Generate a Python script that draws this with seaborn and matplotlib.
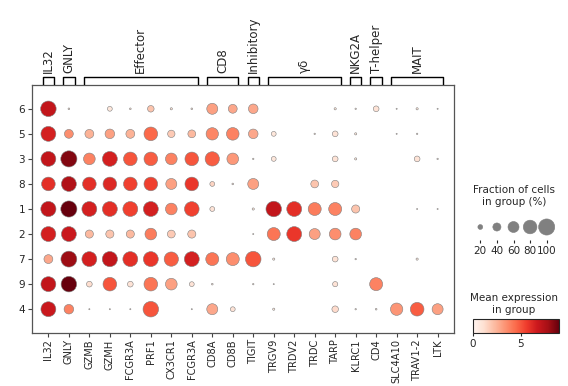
import numpy as np
import pandas as pd
import seaborn as sns
import matplotlib as mpl
import matplotlib.pyplot as plt

# groups (rows) top to bottom and genes (columns)
rows = ["6", "5", "3", "8", "1", "2", "7", "9", "4"]
genes = ["IL32", "GNLY", "GZMB", "GZMH", "FCGR3A", "PRF1", "CX3CR1", "FCGR3A",
         "CD8A", "CD8B", "TIGIT", "TRGV9", "TRDV2", "TRDC", "TARP", "KLRC1",
         "CD4", "SLC4A10", "TRAV1-2", "LTK"]

group_names = ["IL32", "GNLY", "Effector", "CD8", "Inhibitory", "γδ", "NKG2A", "T-helper", "MAIT"]
group_start = [0, 1, 2, 8, 10, 11, 15, 16, 17]
group_end = [0, 1, 7, 9, 10, 14, 15, 16, 19]

# fraction of cells expressing (0-1)
frac = [
    [0.95, 0.05, 0.00, 0.20, 0.05, 0.30, 0.07, 0.05, 0.60, 0.45, 0.50, 0.00, 0.00, 0.00, 0.07, 0.04, 0.25, 0.03, 0.07, 0.03],
    [0.90, 0.45, 0.45, 0.50, 0.45, 0.80, 0.35, 0.38, 0.70, 0.72, 0.50, 0.20, 0.00, 0.04, 0.25, 0.07, 0.00, 0.03, 0.04, 0.00],
    [0.90, 1.00, 0.65, 0.90, 0.80, 0.80, 0.65, 0.80, 0.85, 0.65, 0.04, 0.20, 0.00, 0.00, 0.25, 0.07, 0.00, 0.00, 0.25, 0.04],
    [0.80, 0.90, 0.80, 0.80, 0.80, 0.80, 0.60, 0.80, 0.20, 0.05, 0.60, 0.00, 0.00, 0.38, 0.35, 0.00, 0.00, 0.00, 0.00, 0.00],
    [0.92, 1.00, 0.90, 0.90, 0.90, 0.90, 0.65, 0.88, 0.20, 0.00, 0.07, 0.95, 0.90, 0.75, 0.75, 0.40, 0.00, 0.00, 0.03, 0.03],
    [0.90, 0.90, 0.40, 0.40, 0.40, 0.65, 0.38, 0.40, 0.00, 0.00, 0.03, 0.75, 0.90, 0.60, 0.65, 0.65, 0.00, 0.00, 0.00, 0.00],
    [0.45, 0.98, 0.90, 0.92, 0.90, 0.90, 0.85, 0.90, 0.75, 0.75, 0.95, 0.07, 0.00, 0.00, 0.25, 0.04, 0.00, 0.00, 0.07, 0.00],
    [0.90, 0.95, 0.25, 0.80, 0.25, 0.80, 0.65, 0.20, 0.05, 0.00, 0.04, 0.03, 0.00, 0.00, 0.22, 0.00, 0.75, 0.00, 0.00, 0.00],
    [0.90, 0.50, 0.03, 0.03, 0.03, 0.95, 0.00, 0.03, 0.60, 0.20, 0.00, 0.07, 0.00, 0.00, 0.30, 0.04, 0.05, 0.70, 0.80, 0.60],
]

# mean expression in group
expr = [
    [7.0, 1.0, 0.0, 0.8, 1.0, 2.0, 1.0, 1.0, 3.0, 2.8, 2.8, 0.0, 0.0, 0.0, 0.8, 0.8, 1.0, 0.8, 0.8, 0.8],
    [6.5, 3.5, 2.5, 3.0, 2.5, 4.5, 1.8, 2.3, 3.7, 3.8, 2.8, 0.8, 0.0, 0.8, 1.0, 0.8, 0.0, 0.8, 0.8, 0.0],
    [7.0, 8.5, 3.8, 6.5, 5.0, 4.8, 3.8, 5.0, 4.8, 3.2, 0.8, 0.8, 0.0, 0.0, 1.0, 0.8, 0.0, 0.0, 1.0, 0.8],
    [6.0, 7.5, 6.0, 6.2, 5.5, 5.5, 3.0, 5.8, 1.5, 1.0, 3.0, 0.0, 0.0, 2.0, 1.8, 0.0, 0.0, 0.0, 0.0, 0.0],
    [7.0, 9.0, 6.5, 6.0, 5.5, 6.5, 3.8, 5.5, 1.0, 0.0, 0.8, 7.0, 6.0, 4.0, 3.8, 2.0, 0.0, 0.0, 0.8, 0.8],
    [6.5, 6.8, 2.3, 2.0, 2.3, 4.0, 1.8, 2.0, 0.0, 0.0, 0.8, 4.2, 5.8, 3.0, 3.5, 3.8, 0.0, 0.0, 0.0, 0.0],
    [2.8, 8.0, 6.5, 7.0, 6.0, 5.8, 4.8, 6.5, 4.2, 3.5, 5.0, 0.8, 0.0, 0.0, 1.0, 0.8, 0.0, 0.0, 0.8, 0.0],
    [7.0, 9.0, 1.2, 5.0, 1.0, 4.2, 3.0, 1.0, 0.8, 0.0, 0.8, 0.8, 0.0, 0.0, 1.0, 0.0, 3.8, 0.0, 0.0, 0.0],
    [6.8, 3.8, 0.8, 0.8, 0.8, 5.0, 0.0, 0.8, 2.8, 1.0, 0.0, 0.8, 0.0, 0.0, 1.3, 0.8, 0.8, 3.3, 4.8, 3.0],
]

legend_fracs = [0.2, 0.4, 0.6, 0.8, 1.0]
legend_labels = ["20", "40", "60", "80", "100"]

VMAX = 9.0
SMAX = 135  # marker area for 100 %

recs = []
for i, r in enumerate(rows):
    for j, g in enumerate(genes):
        if frac[i][j] > 0:
            recs.append({"x": j, "y": i, "expr": expr[i][j], "area": frac[i][j] ** 1.5})
df = pd.DataFrame(recs)

sns.set_style("ticks")
plt.rcParams["font.family"] = ["DejaVu Sans"]

W, H = 568, 386
fig = plt.figure(figsize=(W / 100, H / 100), dpi=100)


def box(l, t, r, b):
    return [l / W, 1 - b / H, (r - l) / W, (b - t) / H]


# main dot plot
ax = fig.add_axes(box(32, 85, 454, 333))
sns.scatterplot(data=df, x="x", y="y", hue="expr", size="area", palette="Reds",
                hue_norm=(0, VMAX), sizes=(0, SMAX), size_norm=(0, 1),
                edgecolor="gray", linewidth=0.4, legend=False, ax=ax)
ax.set_xlim(-0.8, len(genes) - 0.2)
ax.set_ylim(len(rows) - 0.05, -0.95)
ax.set_xticks(range(len(genes)))
ax.set_xticklabels(genes, rotation=90, fontsize=7.1)
ax.set_yticks(range(len(rows)))
ax.set_yticklabels(rows, fontsize=7.5)
ax.set_xlabel("")
ax.set_ylabel("")
ax.tick_params(length=3, width=0.8, color="#444444", pad=2)
ax.tick_params(axis="x", pad=1.5)
for sp in ax.spines.values():
    sp.set_visible(True)
    sp.set_color("#555555")
    sp.set_linewidth(0.9)

# gene group brackets
bax = fig.add_axes(box(32, 0, 454, 85))
bax.set_xlim(ax.get_xlim())
bax.set_ylim(0, 1)
bax.axis("off")
for name, s, e in zip(group_names, group_start, group_end):
    l, r = s - 0.28, e + 0.28
    bax.plot([l, l, r, r], [0, 0.09, 0.09, 0], color="black", lw=1)
    bax.text((s + e) / 2, 0.14, name, rotation=90, ha="center", va="bottom", fontsize=8.5)

# size legend
sax = fig.add_axes(box(472, 214, 555, 240))
leg = pd.DataFrame({"x": range(len(legend_fracs)), "y": 0,
                    "area": [f ** 1.5 for f in legend_fracs]})
sns.scatterplot(data=leg, x="x", y="y", size="area", sizes=(0, SMAX), size_norm=(0, 1),
                color="gray", edgecolor="gray", linewidth=0.4, legend=False, ax=sax)
sax.set_xlim(-0.5, len(legend_fracs) - 0.5)
sax.set_ylim(-0.6, 0.6)
sax.set_xticks(range(len(legend_fracs)))
sax.set_xticklabels(legend_labels, fontsize=7.5)
sax.set_yticks([])
sax.set_xlabel("")
sax.set_ylabel("")
sax.tick_params(axis="x", length=2, width=0.8, pad=2)
for sp in sax.spines.values():
    sp.set_visible(False)
fig.text(514 / W, 1 - 196 / H, "Fraction of cells\nin group (%)", ha="center", va="center",
         fontsize=7.5, linespacing=1.2)

# colorbar
cax = fig.add_axes(box(473, 319, 559, 333))
sm = mpl.cm.ScalarMappable(norm=mpl.colors.Normalize(0, VMAX), cmap="Reds")
cb = fig.colorbar(sm, cax=cax, orientation="horizontal", ticks=[0, 5])
cb.ax.tick_params(labelsize=7.5, length=2, pad=2)
cb.outline.set_linewidth(0.8)
fig.text(514 / W, 1 - 304 / H, "Mean expression\nin group", ha="center", va="center",
         fontsize=7.5, linespacing=1.2)

fig.savefig("out.png", dpi=100)
